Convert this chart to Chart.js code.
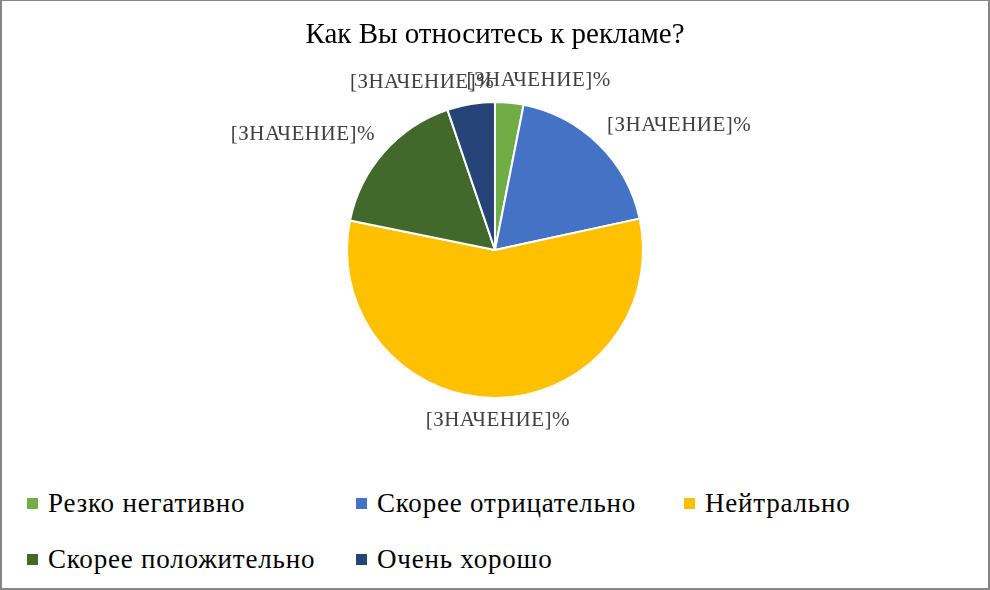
<!DOCTYPE html>
<html lang="ru">
<head>
<meta charset="utf-8">
<title>Как Вы относитесь к рекламе?</title>
<script src="https://cdn.jsdelivr.net/npm/chart.js@4.4.1/dist/chart.umd.min.js"></script>
<style>
    html, body {
        margin: 0;
        padding: 0;
        background: #ffffff;
    }
    #frame {
        position: relative;
        width: 990px;
        height: 590px;
        box-sizing: border-box;
        border: 2px solid #878787;
        border-top-width: 1px;
        background: #ffffff;
        overflow: hidden;
    }
    #chartBox {
        position: absolute;
        left: 0;
        top: 0;
        width: 986px;
        height: 470px;
    }
    #legend {
        position: absolute;
        left: 25px;
        top: 474px;
        display: grid;
        grid-template-columns: 329px 328px 300px;
        grid-auto-rows: 56px;
        font-family: "Liberation Serif", "Times New Roman", serif;
        font-size: 27px;
        letter-spacing: 0.8px;
        color: #000000;
    }
    .legend-item {
        display: flex;
        align-items: center;
        white-space: nowrap;
    }
    .legend-box {
        width: 11px;
        height: 11px;
        margin-right: 10px;
        flex: none;
    }
</style>
</head>
<body>
<div id="frame">
    <div id="chartBox"><canvas id="attitudeChart"></canvas></div>
    <div id="legend"></div>
</div>

<script>
/* data */
const chartTitle = "Как Вы относитесь к рекламе?";
const categories = ["Резко негативно", "Скорее отрицательно", "Нейтрально", "Скорее положительно", "Очень хорошо"];
const shares = [3.1, 18.5, 56.6, 16.6, 5.2];
const valueLabel = "[ЗНАЧЕНИЕ]%";

const sliceColors = ["#70AD47", "#4472C4", "#FFC000", "#43682B", "#264478"];

const canvasEl = document.querySelector("#attitudeChart");
const legendEl = document.querySelector("#legend");

/* labels outside the slices, like excel "outside end" */
const outsideLabels = {
    id: "outsideLabels",
    afterDatasetsDraw(chart) {
        const ctx = chart.ctx;
        const meta = chart.getDatasetMeta(0);
        ctx.save();
        ctx.font = "21px 'Liberation Serif', 'Times New Roman', serif";
        ctx.letterSpacing = "0.5px";
        ctx.fillStyle = "#404040";
        ctx.textAlign = "center";
        ctx.textBaseline = "middle";

        meta.data.forEach(arc => {
            const p = arc.getProps(["x", "y", "startAngle", "endAngle", "outerRadius"], true);
            const mid = (p.startAngle + p.endAngle) / 2;
            const dx = Math.cos(mid);
            const dy = Math.sin(mid);
            const dist = p.outerRadius + 12;
            const w = ctx.measureText(valueLabel).width;
            const h = 20;
            const clamp = v => Math.max(-1, Math.min(1, v));
            const cx = p.x + dx * dist + clamp(dx * 4) * w / 2;
            const cy = p.y + dy * dist + clamp(dy * 4) * h / 2;
            ctx.fillText(valueLabel, cx, cy);
        });
        ctx.restore();
    }
};

const attitudeChart = new Chart(canvasEl, {
    type: "pie",
    data: {
        labels: categories,
        datasets: [
            {
                data: shares,
                backgroundColor: sliceColors,
                borderColor: "#ffffff",
                borderWidth: 2
            }
        ]
    },
    options: {
        responsive: true,
        maintainAspectRatio: false,
        animation: false,
        layout: {
            padding: { top: 0, bottom: 72, left: 0, right: 0 }
        },
        plugins: {
            legend: { display: false },
            tooltip: { enabled: false },
            title: {
                display: true,
                text: chartTitle,
                color: "#000000",
                font: { family: "'Liberation Serif', 'Times New Roman', serif", size: 29, weight: "normal", lineHeight: 1.2 },
                padding: { top: 17, bottom: 48.2 }
            }
        }
    },
    plugins: [outsideLabels]
});

/* legend in excel style grid */
attitudeChart.data.labels.forEach((name, i) => {
    const item = document.createElement("div");
    item.className = "legend-item";
    const box = document.createElement("span");
    box.className = "legend-box";
    box.style.background = attitudeChart.data.datasets[0].backgroundColor[i];
    const text = document.createElement("span");
    text.textContent = name;
    item.appendChild(box);
    item.appendChild(text);
    legendEl.appendChild(item);
});
</script>
</body>
</html>
